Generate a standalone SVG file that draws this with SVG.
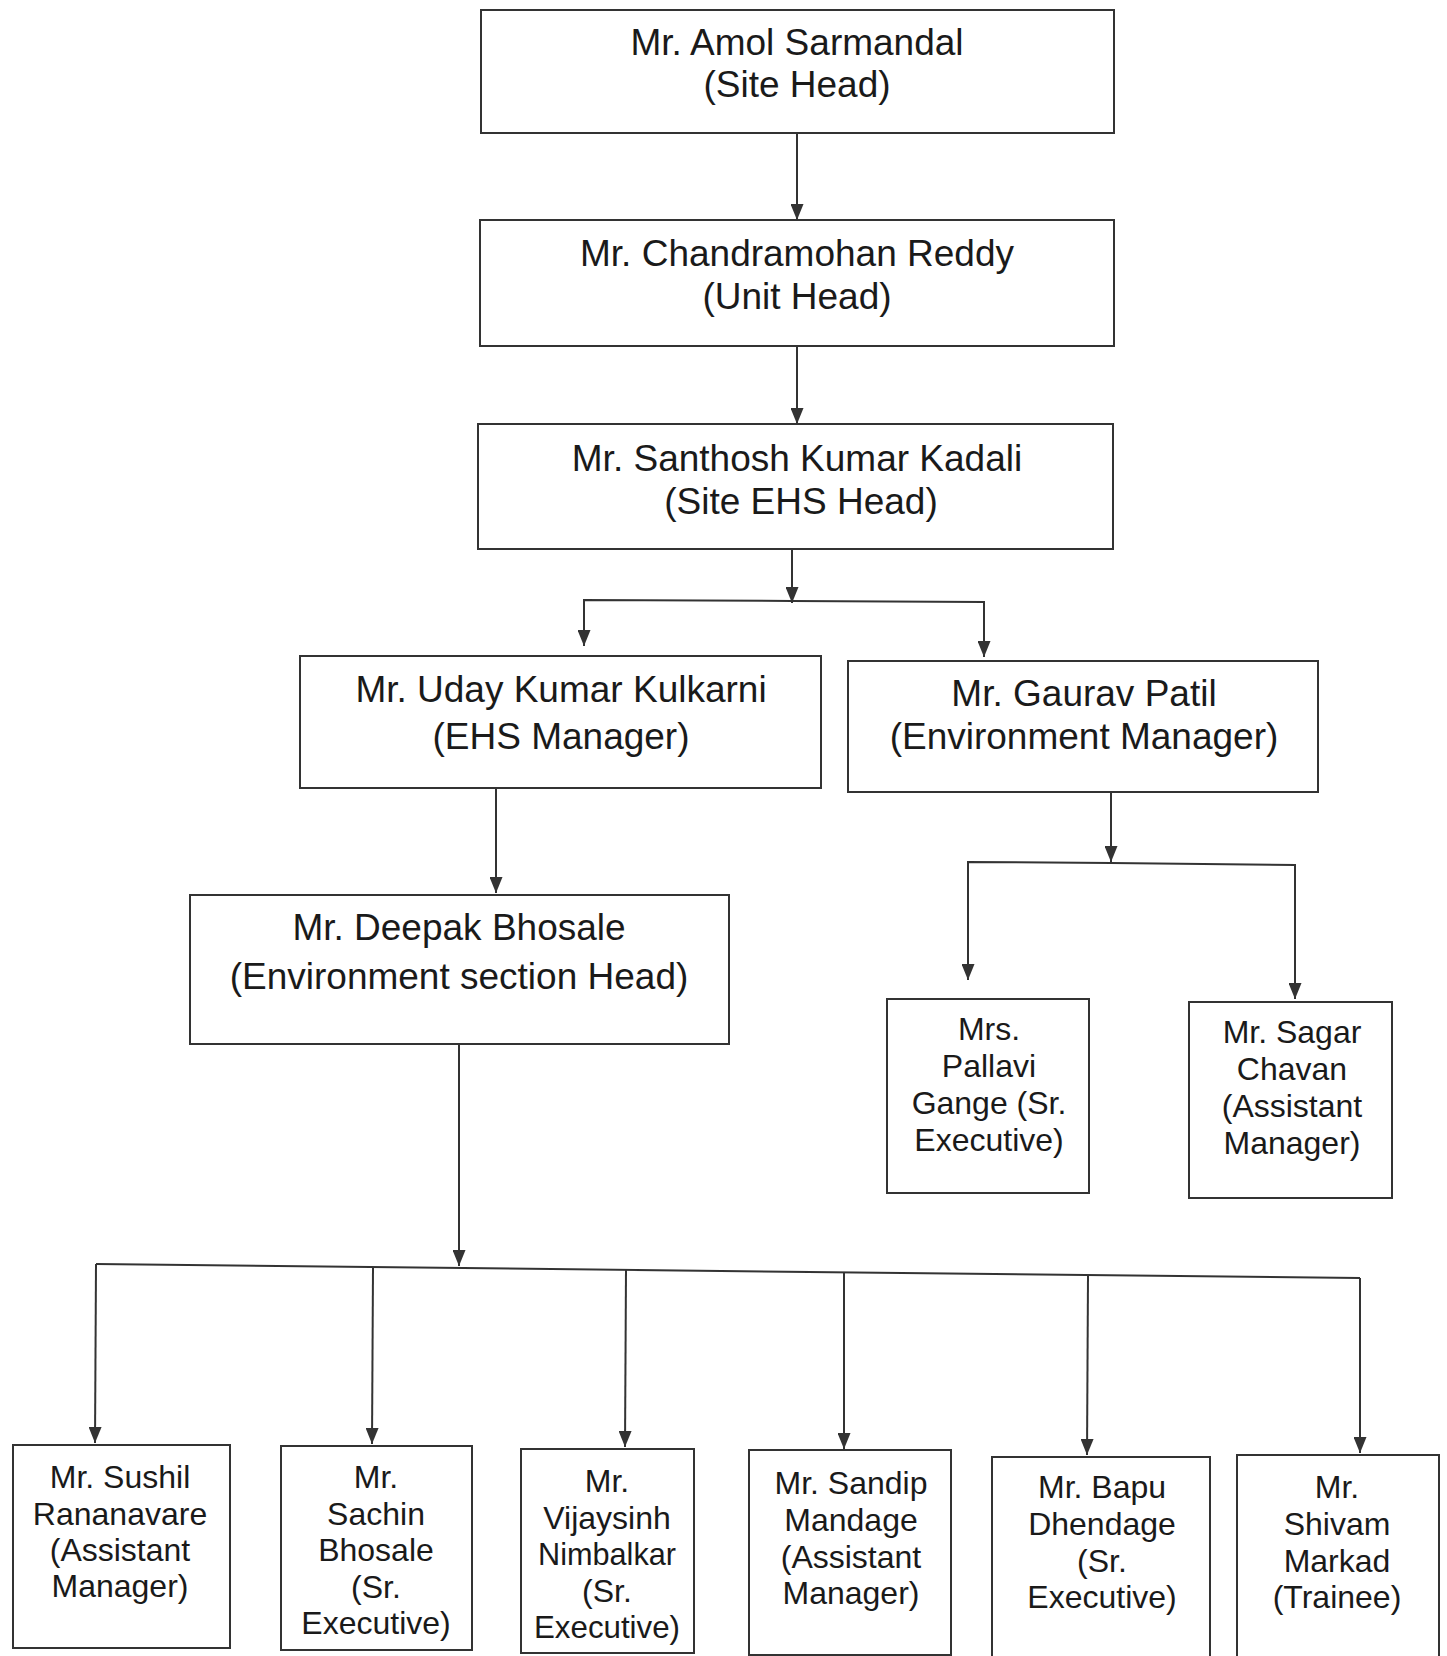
<svg xmlns="http://www.w3.org/2000/svg" width="1447" height="1656" viewBox="0 0 1447 1656">
<defs>
<style>
.box{fill:#fff;stroke:#333;stroke-width:2}
.t{font-family:"Liberation Sans",Arial,sans-serif;font-size:37px;fill:#1a1a1a;text-anchor:middle}
.s{font-family:"Liberation Sans",Arial,sans-serif;font-size:32px;fill:#1a1a1a;text-anchor:middle}
.c{fill:none;stroke:#333;stroke-width:2}
</style>
<marker id="ah" markerUnits="userSpaceOnUse" markerWidth="16" markerHeight="13" refX="16" refY="6.5" orient="auto">
<path d="M0,0 L16,6.5 L0,13 z" fill="#333"/>
</marker>
</defs>
<rect width="1447" height="1656" fill="#fff"/>
<g id="connectors">
<line class="c" x1="797" y1="133" x2="797" y2="220" marker-end="url(#ah)"/>
<line class="c" x1="797" y1="346" x2="797" y2="424" marker-end="url(#ah)"/>
<line class="c" x1="792" y1="549" x2="792" y2="603" marker-end="url(#ah)"/>
<polyline class="c" points="792,601 584,600 584,646" marker-end="url(#ah)"/>
<polyline class="c" points="792,601 984,602 984,657" marker-end="url(#ah)"/>
<line class="c" x1="496" y1="788" x2="496" y2="893" marker-end="url(#ah)"/>
<line class="c" x1="1111" y1="792" x2="1111" y2="862" marker-end="url(#ah)"/>
<polyline class="c" points="1111,863 968,862 968,980" marker-end="url(#ah)"/>
<polyline class="c" points="1111,863 1295,865 1295,999" marker-end="url(#ah)"/>
<line class="c" x1="459" y1="1044" x2="459" y2="1266" marker-end="url(#ah)"/>
<line class="c" x1="96" y1="1264" x2="1360" y2="1278"/>
<line class="c" x1="96" y1="1264" x2="95" y2="1443" marker-end="url(#ah)"/>
<line class="c" x1="373" y1="1268" x2="372" y2="1444" marker-end="url(#ah)"/>
<line class="c" x1="626" y1="1270" x2="625" y2="1447" marker-end="url(#ah)"/>
<line class="c" x1="844" y1="1273" x2="844" y2="1449" marker-end="url(#ah)"/>
<line class="c" x1="1088" y1="1276" x2="1087" y2="1455" marker-end="url(#ah)"/>
<line class="c" x1="1360" y1="1278" x2="1360" y2="1453" marker-end="url(#ah)"/>
</g>
<g id="n-amol"><rect class="box" x="481" y="10" width="633" height="123"/>
<text class="t" x="797" y="55">Mr. Amol Sarmandal</text><text class="t" x="797" y="97">(Site Head)</text></g>
<g id="n-chandramohan"><rect class="box" x="480" y="220" width="634" height="126"/>
<text class="t" x="797" y="266">Mr. Chandramohan Reddy</text><text class="t" x="797" y="309">(Unit Head)</text></g>
<g id="n-santhosh"><rect class="box" x="478" y="424" width="635" height="125"/>
<text class="t" x="797" y="471">Mr. Santhosh Kumar Kadali</text><text class="t" x="801" y="514">(Site EHS Head)</text></g>
<g id="n-uday"><rect class="box" x="300" y="656" width="521" height="132"/>
<text class="t" x="561" y="702">Mr. Uday Kumar Kulkarni</text><text class="t" x="561" y="749">(EHS Manager)</text></g>
<g id="n-gaurav"><rect class="box" x="848" y="661" width="470" height="131"/>
<text class="t" x="1084" y="706">Mr. Gaurav Patil</text><text class="t" x="1084" y="749">(Environment Manager)</text></g>
<g id="n-deepak"><rect class="box" x="190" y="895" width="539" height="149"/>
<text class="t" x="459" y="940">Mr. Deepak Bhosale</text><text class="t" x="459" y="989">(Environment section Head)</text></g>
<g id="n-pallavi"><rect class="box" x="887" y="999" width="202" height="194"/>
<text class="s" x="989" y="1040">Mrs.</text><text class="s" x="989" y="1077">Pallavi</text><text class="s" x="989" y="1114">Gange (Sr.</text><text class="s" x="989" y="1151">Executive)</text></g>
<g id="n-sagar"><rect class="box" x="1189" y="1002" width="203" height="196"/>
<text class="s" x="1292" y="1043">Mr. Sagar</text><text class="s" x="1292" y="1080">Chavan</text><text class="s" x="1292" y="1117">(Assistant</text><text class="s" x="1292" y="1154">Manager)</text></g>
<g id="n-sushil"><rect class="box" x="13" y="1445" width="217" height="203"/>
<text class="s" x="120" y="1488">Mr. Sushil</text><text class="s" x="120" y="1525">Rananavare</text><text class="s" x="120" y="1561">(Assistant</text><text class="s" x="120" y="1597">Manager)</text></g>
<g id="n-sachin"><rect class="box" x="281" y="1446" width="191" height="204"/>
<text class="s" x="376" y="1488">Mr.</text><text class="s" x="376" y="1525">Sachin</text><text class="s" x="376" y="1561">Bhosale</text><text class="s" x="376" y="1598">(Sr.</text><text class="s" x="376" y="1634">Executive)</text></g>
<g id="n-vijaysinh"><rect class="box" x="521" y="1449" width="173" height="204"/>
<text class="s" x="607" y="1492">Mr.</text><text class="s" x="607" y="1529">Vijaysinh</text><text class="s" x="607" y="1565" textLength="138" lengthAdjust="spacingAndGlyphs">Nimbalkar</text><text class="s" x="607" y="1602">(Sr.</text><text class="s" x="607" y="1638" textLength="146" lengthAdjust="spacingAndGlyphs">Executive)</text></g>
<g id="n-sandip"><rect class="box" x="749" y="1450" width="202" height="205"/>
<text class="s" x="851" y="1494">Mr. Sandip</text><text class="s" x="851" y="1531">Mandage</text><text class="s" x="851" y="1568">(Assistant</text><text class="s" x="851" y="1604">Manager)</text></g>
<g id="n-bapu"><rect class="box" x="992" y="1457" width="218" height="210"/>
<text class="s" x="1102" y="1498">Mr. Bapu</text><text class="s" x="1102" y="1535">Dhendage</text><text class="s" x="1102" y="1572">(Sr.</text><text class="s" x="1102" y="1608">Executive)</text></g>
<g id="n-shivam"><rect class="box" x="1237" y="1455" width="202" height="212"/>
<text class="s" x="1337" y="1498">Mr.</text><text class="s" x="1337" y="1535">Shivam</text><text class="s" x="1337" y="1572">Markad</text><text class="s" x="1337" y="1608">(Trainee)</text></g>
</svg>
